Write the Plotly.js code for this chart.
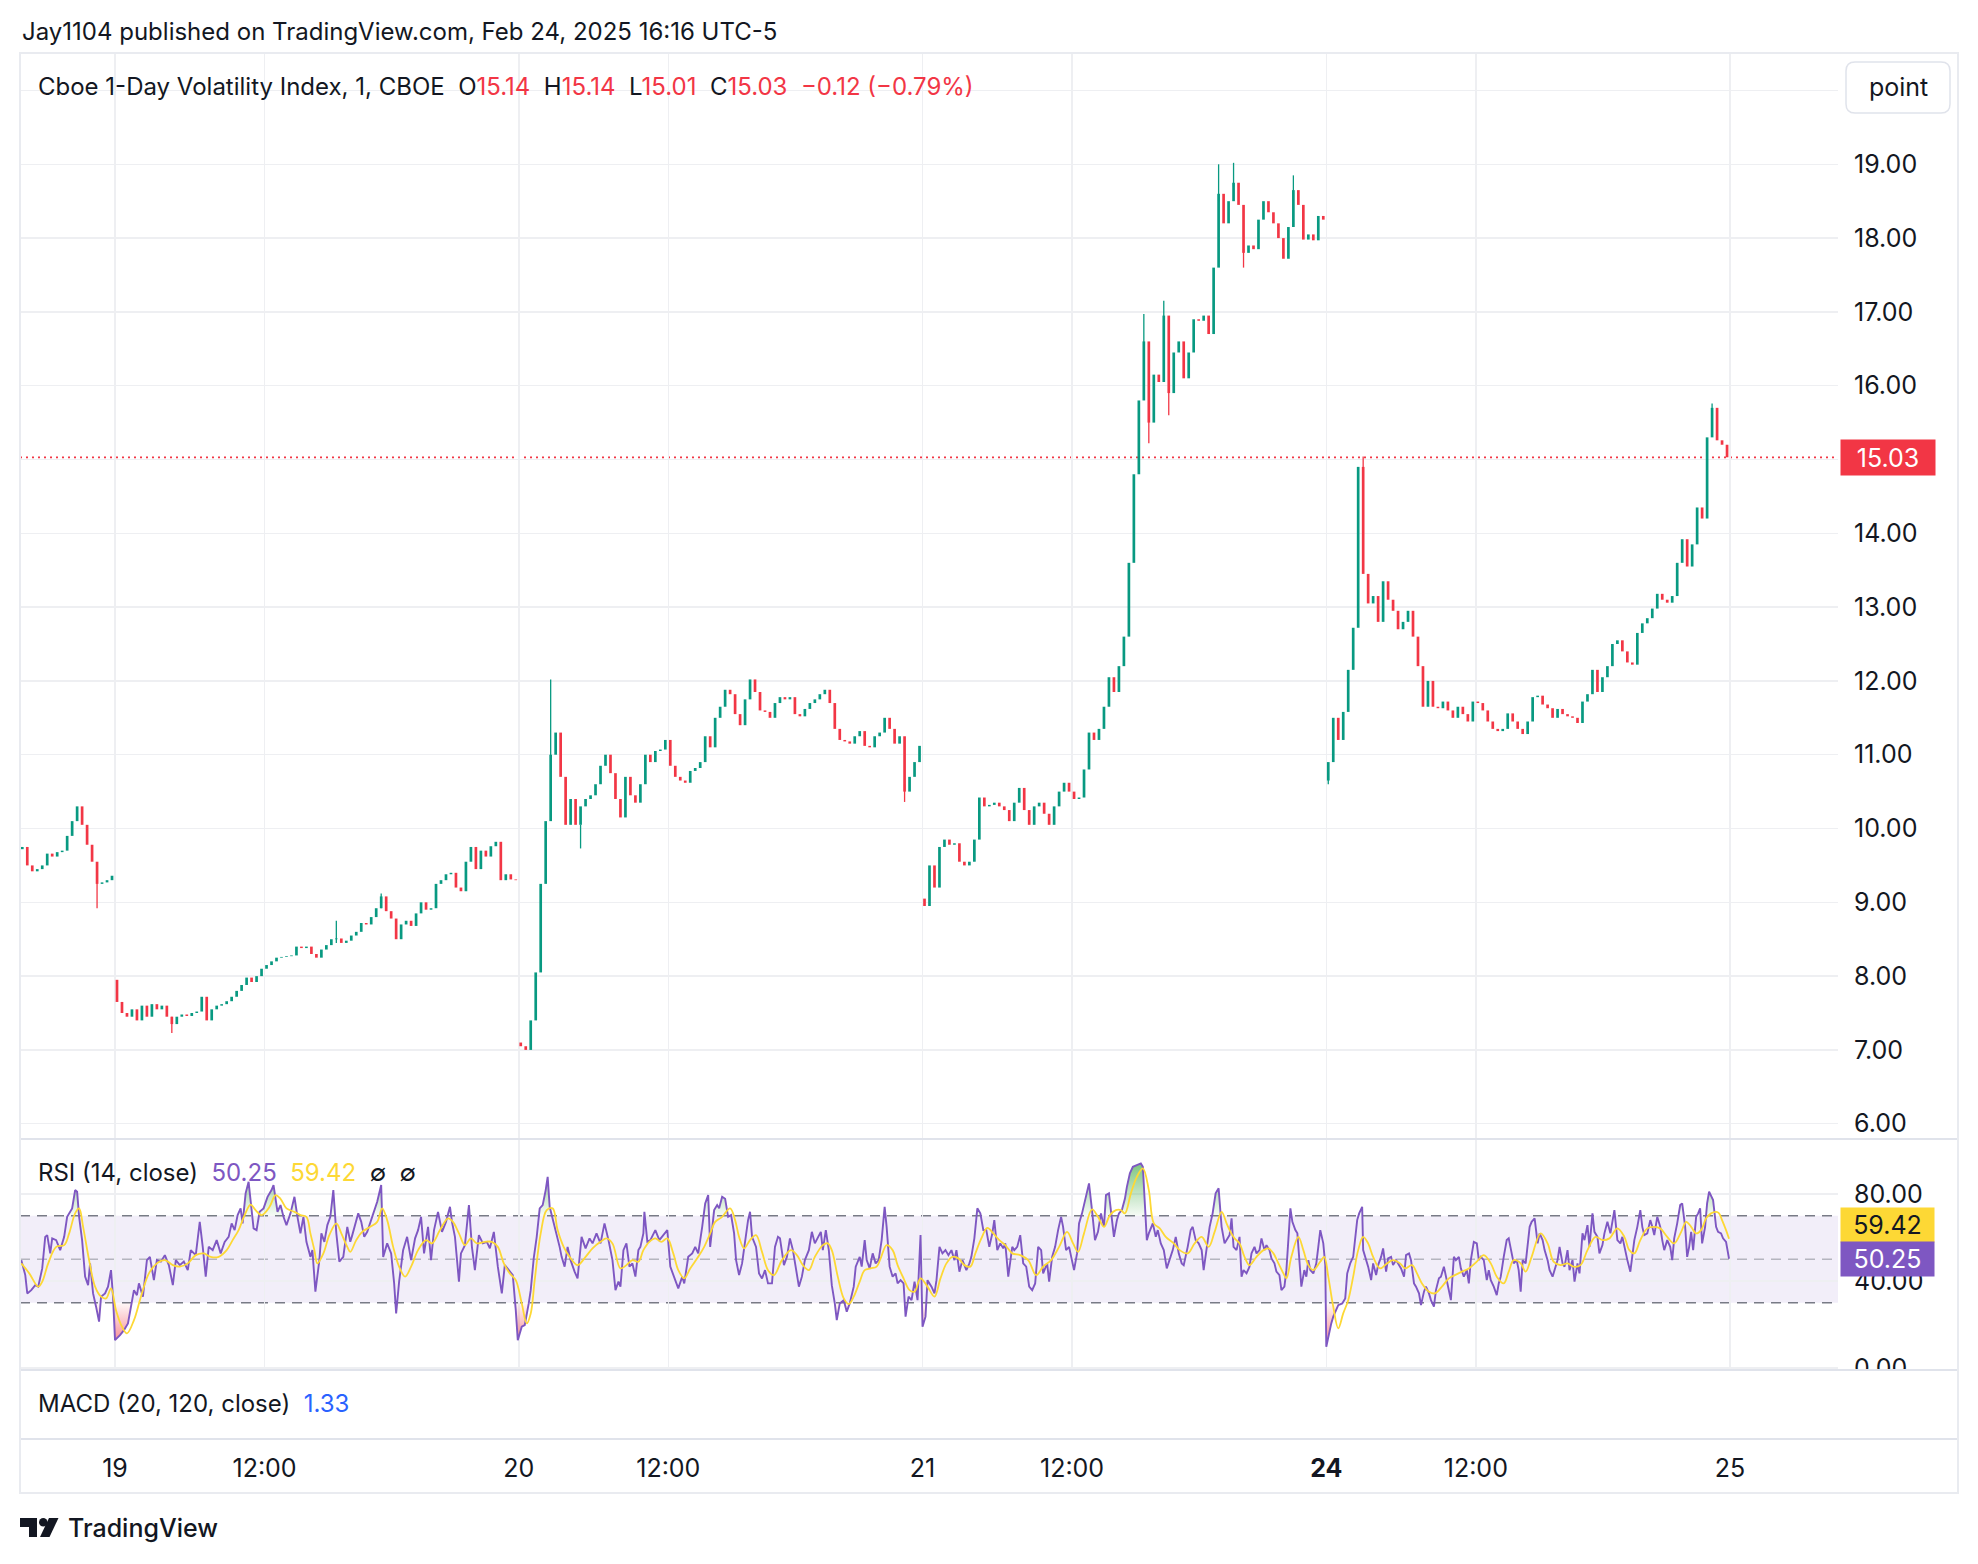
<!DOCTYPE html>
<html>
<head>
<meta charset="utf-8">
<script src="https://cdn.plot.ly/plotly-3.0.1.min.js"></script>
<style>
  html, body { margin: 0; padding: 0; background: #fff; }
  #chart { width: 1978px; height: 1564px; }
</style>
</head>
<body>
<div id="chart"></div>
<script>
/* ── Cboe 1-Day Volatility Index, 1 min, Feb 18–24 2025 ─────────── */

// x is the bar index (minutes of session); each day has 405 one-minute bars.
// Prices are sampled every 5 bars: first value is the open of the first
// candle, every following value is the close of one candle.
const BAR_STEP = 5;
const dayStart = [-93, 2, 407, 812, 1217];

const feb18 = [9.72, 9.75, 9.5, 9.42, 9.45, 9.5, 9.66, 9.62, 9.68, 9.7,
  9.9, 10.1, 10.3, 10.05, 9.78, 9.55, 9.25, 9.27, 9.3, 9.36];

const feb19 = [7.95,
  7.65, 7.5, 7.45, 7.55, 7.4, 7.6, 7.45, 7.62, 7.55, 7.6,
  7.45, 7.35, 7.45, 7.48, 7.46, 7.5, 7.52, 7.72, 7.4, 7.55,
  7.6, 7.62, 7.66, 7.72, 7.8, 7.88, 7.98, 7.92, 8.0, 8.1,
  8.15, 8.2, 8.25, 8.26, 8.27, 8.28, 8.4, 8.38, 8.4, 8.3,
  8.25, 8.36, 8.42, 8.5, 8.51, 8.45, 8.48, 8.55, 8.6, 8.72,
  8.7, 8.8, 8.92, 9.08, 8.88, 8.78, 8.5, 8.7, 8.75, 8.68,
  8.85, 9.0, 8.9, 8.92, 9.25, 9.3, 9.38, 9.4, 9.2, 9.15,
  9.55, 9.75, 9.45, 9.7, 9.62, 9.76, 9.82, 9.3, 9.38, 9.31,
  9.3];

const feb20 = [7.1,
  7.05, 7.0, 7.4, 8.05, 9.25, 10.1, 11.0, 11.3, 10.7, 10.05,
  10.4, 10.05, 10.3, 10.4, 10.45, 10.6, 10.85, 11.0, 10.75, 10.4,
  10.15, 10.7, 10.45, 10.35, 10.6, 11.0, 10.9, 11.05, 11.07, 11.2,
  10.85, 10.7, 10.65, 10.62, 10.78, 10.82, 10.9, 11.25, 11.1, 11.5,
  11.65, 11.88, 11.82, 11.55, 11.4, 11.75, 12.02, 11.85, 11.6, 11.58,
  11.5, 11.7, 11.78, 11.75, 11.78, 11.55, 11.52, 11.62, 11.7, 11.75,
  11.82, 11.88, 11.7, 11.35, 11.2, 11.18, 11.15, 11.25, 11.32, 11.12,
  11.1, 11.25, 11.3, 11.5, 11.35, 11.15, 11.25, 10.5, 10.7, 10.9,
  11.12];

const feb21 = [9.05,
  8.95, 9.5, 9.2, 9.75, 9.85, 9.78, 9.8, 9.55, 9.5, 9.55,
  9.85, 10.42, 10.3, 10.32, 10.35, 10.3, 10.25, 10.1, 10.35, 10.55,
  10.25, 10.05, 10.3, 10.35, 10.2, 10.05, 10.3, 10.5, 10.62, 10.5,
  10.4, 10.42, 10.8, 11.3, 11.2, 11.35, 11.65, 12.05, 11.85, 12.2,
  12.6, 13.6, 14.8, 15.8, 16.6, 15.5, 16.15, 16.05, 16.95, 15.9,
  16.45, 16.6, 16.1, 16.45, 16.9, 16.88, 16.95, 16.7, 17.6, 18.6,
  18.2, 18.5, 18.75, 18.45, 17.8, 17.9, 17.85, 18.25, 18.5, 18.35,
  18.2, 18.0, 17.72, 18.15, 18.65, 18.45, 17.98, 18.05, 17.97, 18.3,
  18.25];

const feb24 = [10.65,
  10.9, 11.5, 11.2, 11.58, 12.15, 12.72, 14.9, 13.45, 13.05, 13.15,
  12.8, 13.35, 13.1, 12.95, 12.7, 12.8, 12.95, 12.6, 12.2, 11.65,
  12.0, 11.65, 11.63, 11.72, 11.6, 11.5, 11.65, 11.55, 11.45, 11.72,
  11.7, 11.6, 11.45, 11.35, 11.32, 11.35, 11.56, 11.45, 11.35, 11.28,
  11.45, 11.78, 11.8, 11.68, 11.63, 11.5, 11.62, 11.55, 11.52, 11.5,
  11.43, 11.72, 11.82, 12.15, 11.85, 12.05, 12.2, 12.5, 12.55, 12.4,
  12.25, 12.22, 12.65, 12.78, 12.85, 12.98, 13.18, 13.1, 13.06, 13.15,
  13.6, 13.92, 13.55, 13.85, 14.35, 14.2, 15.3, 15.7, 15.26, 15.2,
  15.03];

const dayPrices = [feb18, feb19, feb20, feb21, feb24];

// notable wicks: [bar index, low, high]
const wicks = [
  [-18, 8.92, 9.3], [57, 7.23, 7.45], [222, 8.45, 8.75], [267, 8.92, 9.12],
  [437, 10.9, 12.02], [467, 9.73, 10.05], [792, 10.36, 10.6],
  [1032, 16.5, 16.97], [1037, 15.22, 15.6], [1052, 16.9, 17.15], [1057, 15.6, 15.95],
  [1107, 18.5, 19.0], [1122, 18.7, 19.02], [1132, 17.6, 17.85], [1182, 18.6, 18.85],
  [1217, 10.6, 10.7], [1252, 14.9, 15.04], [1602, 15.65, 15.76]
];

// last bar legend values
const lastOpen = 15.14, lastHigh = 15.14, lastLow = 15.01;
const lastChange = -0.12, lastChangePct = -0.79;
const macdValue = 1.33;

// RSI (14) [bar index, value]
const rsiPoints = [
  [-94,49.6],[-90,42.7],[-88,34.3],[-84,35.8],[-80,38.1],[-77,37.4],[-73,45.8],[-70,60.3],[-68,61.1],[-65,52.7],
  [-63,59.6],[-59,58.8],[-55,54.2],[-51,60.3],[-48,69.5],[-45,71.8],[-43,73.4],[-40,81.8],[-38,81.0],[-36,69.5],
  [-33,58.8],[-30,42.0],[-27,38.1],[-25,48.1],[-22,34.3],[-19,28.2],[-16,21.3],[-14,32.8],[-10,34.3],[-7,37.4],
  [-4,45.0],[-2,32.8],[0,12.8],[5,15.1],[9,17.4],[13,20.5],[16,28.9],[19,35.8],[22,33.5],[24,38.9],
  [28,32.8],[32,49.6],[35,51.1],[39,40.4],[42,49.6],[46,48.9],[50,51.9],[54,47.3],[58,38.1],[61,49.6],
  [65,47.3],[69,48.9],[73,45.0],[76,54.2],[81,51.9],[85,67.2],[88,55.7],[91,42.0],[94,55.7],[98,54.2],
  [102,58.8],[106,52.7],[110,58.0],[114,60.3],[117,66.5],[120,63.4],[123,70.3],[126,73.4],[128,66.5],[131,80.3],
  [134,85.6],[136,75.7],[139,64.2],[142,63.4],[145,71.8],[149,73.4],[153,78.7],[157,81.8],[159,84.1],[163,71.8],
  [166,74.9],[169,69.5],[172,65.7],[176,71.1],[180,78.7],[183,69.5],[186,61.9],[189,69.5],[192,58.0],[196,51.1],
  [198,54.2],[201,35.1],[205,49.6],[207,61.9],[210,58.0],[213,65.7],[216,69.5],[219,81.8],[222,61.9],[225,48.9],
  [229,51.1],[233,64.9],[236,58.0],[238,61.1],[241,65.7],[244,71.1],[247,67.2],[250,60.3],[253,62.6],[256,66.5],
  [260,72.6],[263,76.4],[267,84.1],[269,51.1],[273,57.3],[277,52.7],[280,38.9],[282,25.1],[285,39.7],[289,54.2],
  [293,60.3],[297,49.6],[301,59.6],[304,63.4],[307,69.5],[310,52.7],[314,64.9],[317,49.6],[320,63.4],[324,71.8],
  [328,62.6],[332,67.2],[336,74.1],[338,67.2],[341,60.3],[345,39.7],[347,52.7],[351,56.5],[355,74.9],[358,55.7],
  [361,45.0],[365,61.1],[369,57.3],[373,58.0],[376,55.0],[380,62.6],[384,46.6],[388,34.3],[391,47.3],[395,45.0],
  [399,42.7],[402,26.6],[404,12.8],[408,19.0],[411,19.7],[415,29.7],[417,35.8],[420,50.4],[423,60.3],[426,73.4],
  [429,74.9],[432,81.8],[434,87.9],[436,74.1],[439,68.8],[443,61.9],[446,55.7],[448,51.1],[451,46.6],[454,55.7],
  [457,49.6],[461,44.3],[464,41.2],[468,60.3],[472,55.0],[476,59.6],[479,57.3],[483,61.9],[487,57.3],[491,66.5],
  [495,58.8],[499,49.6],[502,35.8],[505,39.7],[507,37.4],[510,54.2],[513,57.3],[516,46.6],[519,48.1],[522,42.0],
  [525,54.2],[527,55.7],[530,61.9],[531,71.8],[534,58.0],[537,58.8],[542,63.4],[546,58.8],[550,61.1],[554,63.4],
  [557,46.6],[561,42.0],[565,36.6],[569,42.0],[571,38.9],[575,51.1],[579,52.7],[582,55.7],[585,52.7],[589,64.9],
  [592,75.7],[595,79.5],[597,55.7],[601,72.6],[604,74.9],[606,73.4],[609,78.7],[612,77.8],[615,69.5],[618,70.3],
  [621,61.9],[623,49.6],[626,42.7],[629,48.1],[632,58.8],[635,68.0],[637,71.8],[639,60.3],[643,55.7],[646,43.5],
  [649,41.2],[652,45.0],[655,38.9],[659,38.9],[662,55.7],[665,60.3],[667,59.6],[671,47.3],[674,51.1],[677,59.6],
  [680,54.2],[683,45.0],[686,37.4],[689,42.0],[692,49.6],[696,54.2],[699,62.6],[702,57.3],[705,60.3],[708,62.6],
  [710,54.2],[713,63.4],[716,54.2],[719,38.1],[722,29.7],[724,22.0],[727,29.7],[731,31.2],[734,25.9],[737,29.7],
  [741,37.4],[743,46.6],[747,51.1],[749,46.6],[752,58.8],[754,49.6],[757,45.8],[760,52.7],[763,48.1],[766,49.6],
  [769,58.8],[772,74.1],[774,64.9],[777,46.6],[780,42.0],[783,43.5],[785,38.9],[788,40.4],[791,38.9],[793,23.6],
  [796,32.8],[799,31.2],[802,39.7],[805,31.2],[808,61.1],[810,19.0],[813,23.6],[815,40.4],[819,37.4],[822,34.3],
  [824,40.4],[827,55.7],[830,52.7],[833,54.2],[836,51.9],[839,54.2],[842,49.6],[844,54.2],[847,44.3],[850,49.6],
  [854,45.0],[857,48.1],[859,51.1],[862,59.6],[865,73.4],[868,71.1],[871,63.4],[874,63.4],[877,55.7],[880,61.9],
  [882,68.0],[885,54.2],[888,57.3],[891,55.0],[893,57.3],[896,42.0],[900,55.7],[902,54.2],[905,55.7],[908,61.1],
  [911,48.1],[914,46.6],[917,37.4],[920,35.8],[923,38.9],[926,55.7],[929,54.2],[931,43.5],[935,48.1],[937,39.7],
  [940,51.1],[943,55.7],[946,63.4],[949,69.5],[951,64.9],[954,54.2],[957,55.7],[959,51.1],[962,45.0],[965,52.7],
  [967,66.5],[970,71.1],[974,78.7],[977,84.9],[980,72.6],[983,58.8],[986,62.6],[989,71.1],[992,64.9],[994,79.5],
  [997,80.3],[1000,69.5],[1002,60.3],[1005,68.0],[1007,71.1],[1010,72.6],[1013,77.8],[1015,83.3],[1018,89.5],[1021,92.5],
  [1025,93.3],[1029,94.1],[1031,92.5],[1033,72.6],[1035,58.8],[1037,61.9],[1041,66.5],[1044,60.3],[1046,63.4],[1049,57.3],
  [1052,54.2],[1055,45.8],[1058,49.6],[1061,54.2],[1064,60.3],[1067,52.7],[1070,48.1],[1072,47.3],[1076,55.7],[1079,63.4],
  [1081,64.9],[1084,58.8],[1087,57.3],[1090,54.2],[1092,45.0],[1095,54.2],[1098,64.9],[1101,71.1],[1104,80.3],[1107,82.6],
  [1110,64.9],[1113,57.3],[1115,58.8],[1118,61.1],[1120,68.8],[1122,55.7],[1125,54.2],[1128,60.3],[1130,42.0],[1132,45.0],
  [1135,43.5],[1138,46.6],[1140,52.7],[1143,55.7],[1145,52.7],[1148,54.2],[1150,59.6],[1153,54.2],[1155,56.5],[1158,54.2],
  [1160,50.4],[1163,48.1],[1165,44.3],[1168,42.7],[1170,35.8],[1173,37.4],[1175,45.0],[1177,58.8],[1179,73.4],[1181,67.2],
  [1184,63.4],[1186,61.9],[1188,49.6],[1190,37.4],[1193,45.0],[1195,42.0],[1197,49.6],[1199,45.0],[1202,43.5],[1205,48.1],
  [1207,55.7],[1209,63.4],[1212,57.3],[1214,47.3],[1215,9.8],[1217,14.4],[1220,20.5],[1222,23.6],[1225,26.6],[1227,28.9],
  [1231,29.7],[1234,32.0],[1236,43.5],[1239,48.1],[1242,51.1],[1244,60.3],[1246,68.0],[1248,71.1],[1251,74.1],[1252,54.2],
  [1255,49.6],[1257,46.6],[1260,40.4],[1262,48.1],[1265,42.7],[1267,47.3],[1270,51.1],[1272,55.0],[1275,44.3],[1277,50.4],
  [1280,51.1],[1282,47.3],[1285,49.6],[1288,47.3],[1290,45.8],[1293,42.0],[1295,51.9],[1298,52.7],[1300,49.6],[1303,38.9],
  [1305,37.4],[1308,34.3],[1310,28.9],[1313,35.1],[1315,37.4],[1318,34.3],[1320,31.2],[1323,28.2],[1325,35.8],[1328,41.2],
  [1330,42.0],[1333,46.6],[1335,42.0],[1338,34.3],[1340,31.2],[1343,51.1],[1345,49.6],[1348,51.1],[1350,45.8],[1353,42.0],
  [1356,45.0],[1358,38.9],[1360,49.6],[1363,58.0],[1366,57.3],[1368,49.6],[1370,51.1],[1373,49.6],[1376,40.4],[1378,45.0],
  [1380,40.4],[1383,37.4],[1386,33.5],[1388,38.9],[1390,42.0],[1393,51.1],[1396,58.8],[1398,59.6],[1400,54.2],[1403,48.1],
  [1406,49.6],[1408,45.0],[1410,35.1],[1412,49.6],[1415,48.1],[1417,55.7],[1419,64.9],[1421,67.2],[1424,68.8],[1427,57.3],
  [1429,61.9],[1432,58.8],[1434,54.2],[1437,49.6],[1439,45.0],[1442,42.0],[1444,45.0],[1447,49.6],[1449,55.7],[1452,48.1],
  [1454,46.6],[1457,54.2],[1459,45.0],[1462,49.6],[1464,39.7],[1467,48.1],[1469,43.5],[1472,61.9],[1474,58.8],[1477,65.7],
  [1479,55.7],[1482,71.1],[1484,62.6],[1487,60.3],[1489,52.7],[1492,56.5],[1494,61.9],[1497,67.2],[1500,61.9],[1502,67.2],
  [1504,72.6],[1507,58.8],[1510,57.3],[1512,60.3],[1514,55.7],[1517,49.6],[1520,44.3],[1522,51.1],[1524,58.8],[1527,64.9],
  [1530,72.6],[1532,64.9],[1534,61.1],[1537,61.9],[1540,68.0],[1542,64.9],[1544,61.1],[1547,69.5],[1550,64.9],[1552,58.8],
  [1554,54.2],[1557,58.8],[1560,55.7],[1562,49.6],[1564,59.6],[1567,66.5],[1570,74.9],[1572,75.7],[1575,64.9],[1577,51.1],
  [1579,55.7],[1581,62.6],[1583,54.2],[1586,69.5],[1588,71.1],[1590,73.4],[1592,57.3],[1595,64.9],[1597,75.7],[1599,81.1],
  [1601,78.7],[1603,77.2],[1606,64.9],[1608,62.6],[1611,61.9],[1613,59.6],[1616,58.0],[1617,55.7],[1619,50.25]
];

// RSI-based moving average [bar index, value]
const maPoints = [
  [-94,48.1],[-86,43.5],[-77,37.4],[-73,39.7],[-67,48.1],[-59,55.7],[-51,56.5],[-46,61.9],[-40,71.1],[-36,73.4],
  [-32,64.9],[-26,49.6],[-20,37.4],[-14,32.8],[-9,32.0],[-4,36.6],[1,26.6],[7,19.0],[12,15.9],[19,22.0],
  [26,32.8],[34,43.5],[42,48.1],[50,49.6],[58,47.3],[65,46.6],[73,48.1],[81,51.9],[89,52.7],[96,51.1],
  [104,51.1],[112,54.2],[118,58.8],[124,63.4],[130,70.3],[136,75.1],[141,72.6],[147,70.3],[155,74.1],[161,79.5],
  [166,77.8],[172,73.4],[180,71.8],[186,70.3],[192,69.5],[196,61.9],[200,54.2],[203,48.1],[209,52.7],[215,61.1],
  [222,66.5],[227,61.9],[233,55.7],[236,53.4],[242,58.8],[248,62.6],[256,64.9],[263,67.2],[268,73.4],[273,68.0],
  [279,55.7],[285,46.6],[291,42.0],[297,46.6],[304,54.2],[312,58.8],[318,57.3],[326,63.4],[334,68.8],[339,67.2],
  [345,61.9],[351,56.5],[357,59.6],[363,57.3],[371,58.0],[378,58.0],[384,55.7],[390,48.1],[396,43.5],[402,40.4],
  [408,29.7],[413,20.5],[417,25.1],[421,40.4],[427,61.9],[433,72.6],[439,73.4],[444,63.4],[450,55.7],[456,51.1],
  [464,47.3],[472,51.1],[479,55.0],[487,58.0],[493,59.6],[499,57.3],[507,45.8],[513,47.3],[519,49.6],[525,48.9],
  [530,54.2],[536,58.0],[542,59.6],[548,58.0],[554,59.6],[560,52.7],[565,45.0],[571,41.2],[577,45.8],[585,51.1],
  [591,55.7],[597,61.9],[602,67.2],[609,69.5],[617,73.4],[622,68.0],[626,60.3],[631,55.0],[637,58.8],[643,61.1],
  [649,53.4],[655,45.0],[661,42.7],[669,49.6],[678,54.2],[684,51.9],[690,47.3],[696,45.0],[702,51.1],[710,56.5],
  [715,57.3],[719,54.2],[725,42.0],[731,32.0],[736,29.4],[741,32.8],[747,39.7],[752,45.0],[758,45.8],[764,46.6],
  [768,50.4],[774,56.5],[780,54.2],[785,47.3],[791,41.2],[797,35.8],[802,35.1],[808,41.2],[815,37.4],[822,32.8],
  [828,41.2],[834,48.1],[840,51.1],[846,50.4],[852,47.3],[858,46.6],[863,52.7],[869,59.6],[875,64.4],[881,61.9],
  [887,58.8],[893,56.5],[900,52.7],[908,51.9],[916,49.6],[924,42.7],[931,46.6],[939,49.6],[947,55.7],[955,62.6],
  [961,57.3],[966,53.4],[972,61.9],[980,72.9],[986,69.5],[992,64.9],[998,70.3],[1004,72.6],[1009,72.6],[1013,71.1],
  [1019,80.3],[1025,87.9],[1031,91.8],[1037,81.8],[1042,66.5],[1048,64.2],[1054,60.3],[1062,57.3],[1068,54.2],[1076,52.7],
  [1083,57.3],[1090,60.3],[1097,55.7],[1103,62.6],[1110,71.8],[1115,66.5],[1118,63.4],[1123,59.6],[1128,57.3],[1133,51.1],
  [1138,47.3],[1145,51.1],[1152,54.2],[1157,55.0],[1162,52.7],[1167,48.1],[1172,43.5],[1175,41.2],[1180,51.1],[1187,60.3],
  [1192,54.2],[1197,47.3],[1202,45.0],[1209,48.9],[1213,51.1],[1217,42.0],[1222,28.2],[1227,18.2],[1232,25.1],[1237,31.2],
  [1242,42.0],[1247,54.2],[1252,60.3],[1257,57.3],[1262,51.1],[1269,45.8],[1276,48.1],[1282,49.6],[1289,48.1],[1294,45.8],
  [1301,47.3],[1306,43.5],[1311,38.9],[1318,35.1],[1324,34.3],[1331,37.4],[1338,41.2],[1344,42.7],[1351,44.3],[1358,45.8],
  [1366,48.9],[1373,51.9],[1380,48.1],[1386,42.0],[1393,38.9],[1398,44.3],[1403,49.6],[1410,48.1],[1415,44.3],[1421,51.1],
  [1430,61.9],[1437,57.3],[1443,48.9],[1450,47.3],[1457,48.1],[1463,46.6],[1470,47.3],[1477,54.2],[1485,60.3],[1492,58.8],
  [1499,59.6],[1507,64.2],[1514,60.3],[1519,54.2],[1524,52.7],[1530,58.8],[1537,64.2],[1544,64.9],[1550,64.2],[1557,60.3],
  [1564,57.3],[1571,62.6],[1576,67.2],[1581,64.9],[1586,61.9],[1591,63.4],[1596,68.8],[1601,71.1],[1606,71.8],[1609,71.1],
  [1612,68.0],[1616,63.4],[1619,59.42]
];

// axes
const timeTickIdx = [0, 150, 405, 555, 810, 960, 1215, 1365, 1620];
const timeTickText = ['19', '12:00', '20', '12:00', '21', '12:00', '<b>24</b>', '12:00', '25'];
const priceTicks = [6, 7, 8, 9, 10, 11, 12, 13, 14, 15, 16, 17, 18, 19, 20];
const priceHidden = [15, 20];   // covered by the price tag and the "point" button
const rsiTicks = [0, 40, 80];

/* ── build ───────────────────────────────────────────────────────── */

const UP = '#089981';
const DOWN = '#F23645';
const RSI_COLOR = '#7E57C2';
const MA_COLOR = '#FDD835';
const TEXT = '#131722';
const GRID = '#eeeff2';
const SEP = '#e0e3eb';
const FONT = 'Inter, "Noto Sans", sans-serif';

const candleX = [], candleOpen = [], candleClose = [];
dayPrices.forEach((vals, d) => {
  for (let i = 1; i < vals.length; i++) {
    candleX.push(dayStart[d] + (i - 1) * BAR_STEP);
    candleOpen.push(vals[i - 1]);
    candleClose.push(vals[i]);
  }
});
const candleColor = candleClose.map((c, i) => (c >= candleOpen[i] ? UP : DOWN));
const lastClose = candleClose[candleClose.length - 1];

function wickTrace(color) {
  const x = [], y = [];
  wicks.forEach(([wx, lo, hi]) => {
    const k = candleX.indexOf(wx);
    if (candleColor[k] !== color) return;
    x.push(wx, wx, null);
    y.push(lo, hi, null);
  });
  return { type: 'scatter', mode: 'lines', x, y, line: { color, width: 1.3 },
    xaxis: 'x', yaxis: 'y', hoverinfo: 'skip' };
}

const rsiX = rsiPoints.map(p => p[0]);
const rsiY = rsiPoints.map(p => p[1]);
const maX = maPoints.map(p => p[0]);
const maY = maPoints.map(p => p[1]);

// pixel -> paper helpers (plot area 20..1838 x 53..1439)
const P = { l: 20, r: 1838, t: 53, b: 1439 };
const px = v => (v - P.l) / (P.r - P.l);
const py = v => (P.b - v) / (P.b - P.t);
const pathOf = pts => pts.map((p, i) => (i ? 'L' : 'M') + px(p[0]) + ',' + py(p[1])).join(' ') + ' Z';

function roundRect(x0, y0, x1, y1, r) {
  const X = px, Y = py;
  return `M${X(x0 + r)},${Y(y0)} L${X(x1 - r)},${Y(y0)} Q${X(x1)},${Y(y0)} ${X(x1)},${Y(y0 + r)} ` +
    `L${X(x1)},${Y(y1 - r)} Q${X(x1)},${Y(y1)} ${X(x1 - r)},${Y(y1)} L${X(x0 + r)},${Y(y1)} ` +
    `Q${X(x0)},${Y(y1)} ${X(x0)},${Y(y1 - r)} L${X(x0)},${Y(y0 + r)} Q${X(x0)},${Y(y0)} ${X(x0 + r)},${Y(y0)} Z`;
}

const data = [
  // candle bodies
  {
    type: 'bar', x: candleX,
    base: candleX.map((_, i) => Math.min(candleOpen[i], candleClose[i])),
    y: candleX.map((_, i) => Math.abs(candleClose[i] - candleOpen[i])),
    width: 2.7, marker: { color: candleColor, line: { width: 0 } },
    xaxis: 'x', yaxis: 'y', hoverinfo: 'skip'
  },
  wickTrace(UP),
  wickTrace(DOWN),
  // overbought / oversold fills
  { type: 'scatter', mode: 'lines', x: rsiX, y: rsiX.map(() => 70), line: { width: 0 },
    xaxis: 'x2', yaxis: 'y2', hoverinfo: 'skip' },
  { type: 'scatter', mode: 'lines', x: rsiX, y: rsiY.map(v => Math.max(v, 70)), line: { width: 0 },
    fill: 'tonexty', fillcolor: 'rgba(76,175,80,0.35)',
    fillgradient: { type: 'vertical', start: 70, stop: 95,
      colorscale: [[0, 'rgba(76,175,80,0.05)'], [1, 'rgba(76,175,80,0.75)']] },
    xaxis: 'x2', yaxis: 'y2', hoverinfo: 'skip' },
  { type: 'scatter', mode: 'lines', x: rsiX, y: rsiX.map(() => 30), line: { width: 0 },
    xaxis: 'x2', yaxis: 'y2', hoverinfo: 'skip' },
  { type: 'scatter', mode: 'lines', x: rsiX, y: rsiY.map(v => Math.min(v, 30)), line: { width: 0 },
    fill: 'tonexty', fillcolor: 'rgba(242,54,69,0.3)',
    fillgradient: { type: 'vertical', start: 8, stop: 30,
      colorscale: [[0, 'rgba(242,54,69,0.7)'], [1, 'rgba(242,54,69,0.03)']] },
    xaxis: 'x2', yaxis: 'y2', hoverinfo: 'skip' },
  // RSI + MA
  { type: 'scatter', mode: 'lines', x: rsiX, y: rsiY, line: { color: RSI_COLOR, width: 1.9 },
    xaxis: 'x2', yaxis: 'y2', hoverinfo: 'skip' },
  { type: 'scatter', mode: 'lines', x: maX, y: maY, line: { color: MA_COLOR, width: 1.8, shape: 'spline' },
    xaxis: 'x2', yaxis: 'y2', hoverinfo: 'skip' },
  // MACD pane (values not plotted in the snapshot) – keeps the time axis subplot
  { type: 'scatter', mode: 'lines', x: [], y: [], xaxis: 'x3', yaxis: 'y3', hoverinfo: 'skip' }
];

const xRange = [-95.3, 1728.3];
const baseX = {
  range: xRange, tickvals: timeTickIdx, showgrid: true, gridcolor: GRID, gridwidth: 1.5,
  zeroline: false, showline: false, ticks: '', showticklabels: false, fixedrange: true
};

const line = (y, color, width) => ({
  type: 'line', xref: 'paper', yref: 'paper', x0: 0, x1: px(1958), y0: py(y), y1: py(y),
  line: { color, width }, layer: 'above'
});

const shapes = [
  // RSI band and levels
  { type: 'rect', xref: 'paper', yref: 'y2', x0: 0, x1: 1, y0: 30, y1: 70,
    fillcolor: 'rgba(126,87,194,0.1)', line: { width: 0 }, layer: 'below' },
  { type: 'line', xref: 'paper', yref: 'y2', x0: 0, x1: 1, y0: 70, y1: 70,
    line: { color: '#787B86', width: 1.6, dash: '10px,7px' }, layer: 'between' },
  { type: 'line', xref: 'paper', yref: 'y2', x0: 0, x1: 1, y0: 30, y1: 30,
    line: { color: '#787B86', width: 1.6, dash: '10px,7px' }, layer: 'between' },
  { type: 'line', xref: 'paper', yref: 'y2', x0: 0, x1: 1, y0: 50, y1: 50,
    line: { color: 'rgba(120,123,134,0.5)', width: 1.6, dash: '10px,7px' }, layer: 'between' },
  // last price line
  { type: 'line', xref: 'paper', yref: 'y', x0: 0, x1: 1, y0: lastClose, y1: lastClose,
    line: { color: DOWN, width: 1.7, dash: '2px,4px' }, layer: 'between' },
  // cover the lower half of the RSI "0.00" label (clipped by pane)
  { type: 'rect', xref: 'paper', yref: 'paper', x0: px(1839), x1: px(1956), y0: py(1437), y1: py(1371),
    fillcolor: '#ffffff', line: { width: 0 }, layer: 'above' },
  // pane separators and frame
  line(1139, SEP, 2), line(1370, SEP, 2), line(1439, SEP, 2),
  { type: 'rect', xref: 'paper', yref: 'paper', x0: 0, x1: px(1958), y0: py(1493), y1: 1,
    line: { color: '#e9ebf0', width: 2 }, layer: 'above' },
  // "point" button
  { type: 'path', xref: 'paper', yref: 'paper', path: roundRect(1846, 62, 1950, 113, 9),
    fillcolor: '#ffffff', line: { color: '#e0e3eb', width: 1.5 }, layer: 'above' },
  // TradingView logo mark
  { type: 'path', xref: 'paper', yref: 'paper',
    path: pathOf([[20, 1518], [37, 1518], [37, 1537], [29, 1537], [29, 1527], [20, 1527]]),
    fillcolor: TEXT, line: { width: 0 }, layer: 'above' },
  { type: 'circle', xref: 'paper', yref: 'paper', x0: px(39), x1: px(47.5), y0: py(1526.5), y1: py(1518),
    fillcolor: TEXT, line: { width: 0 }, layer: 'above' },
  { type: 'path', xref: 'paper', yref: 'paper',
    path: pathOf([[49, 1518], [58.5, 1518], [49.5, 1537], [40, 1537]]),
    fillcolor: TEXT, line: { width: 0 }, layer: 'above' }
];

const nb = '\u00a0';
const gap = nb + nb;
const red = t => `<span style="color:${DOWN}">${t}</span>`;
const minus = v => (v < 0 ? '\u2212' : '+') + Math.abs(v).toFixed(2);

const txt = (text, x, y, extra) => Object.assign({
  text, xref: 'paper', yref: 'paper', x, y, xanchor: 'left', yanchor: 'middle',
  showarrow: false, font: { family: FONT, size: 24, color: TEXT }
}, extra || {});

const tagFont = (color) => ({ family: FONT, size: 25, color });

const annotations = [
  txt('Jay1104 published on TradingView.com, Feb 24, 2025 16:16 UTC-5', px(20), py(31.5)),
  txt(`Cboe 1-Day Volatility Index, 1, CBOE${gap}O${red(lastOpen.toFixed(2))}${gap}H${red(lastHigh.toFixed(2))}` +
      `${gap}L${red(lastLow.toFixed(2))}${gap}C${red(lastClose.toFixed(2))}${gap}` +
      red(`${minus(lastChange)} (${minus(lastChangePct)}%)`), px(36), py(86)),
  txt(`RSI (14, close)${gap}<span style="color:${RSI_COLOR}">${rsiY[rsiY.length - 1].toFixed(2)}</span>${gap}` +
      `<span style="color:${MA_COLOR}">${maY[maY.length - 1].toFixed(2)}</span>${gap}\u2205${gap}\u2205`,
      px(36), py(1172)),
  txt(`MACD (20, 120, close)${gap}<span style="color:#2962FF">${macdValue.toFixed(2)}</span>`, px(36), py(1403)),
  txt('point', px(1898), py(87.5), { xanchor: 'center', font: tagFont(TEXT) }),
  txt('TradingView', px(66), py(1528), { font: { family: FONT, size: 25, color: TEXT, weight: 500 } }),
  // price / RSI value tags
  { text: lastClose.toFixed(2), xref: 'paper', yref: 'y', x: px(1840), y: lastClose,
    xanchor: 'left', yanchor: 'middle', showarrow: false, bgcolor: DOWN, borderpad: 1,
    width: 92, height: 33, align: 'center', font: tagFont('#ffffff') },
  { text: maY[maY.length - 1].toFixed(2), xref: 'paper', yref: 'y2', x: px(1840), y: maY[maY.length - 1],
    yshift: 14, xanchor: 'left', yanchor: 'middle', showarrow: false, bgcolor: MA_COLOR, borderpad: 1,
    width: 91, height: 32, align: 'center', font: tagFont(TEXT) },
  { text: rsiY[rsiY.length - 1].toFixed(2), xref: 'paper', yref: 'y2', x: px(1840), y: rsiY[rsiY.length - 1],
    xanchor: 'left', yanchor: 'middle', showarrow: false, bgcolor: RSI_COLOR, borderpad: 1,
    width: 91, height: 32, align: 'center', font: tagFont('#ffffff') }
];

const tickFont = { family: FONT, size: 25, color: TEXT };

const layout = {
  width: 1978, height: 1564,
  margin: { l: 20, r: 140, t: 53, b: 125 },
  paper_bgcolor: '#ffffff', plot_bgcolor: '#ffffff',
  showlegend: false,
  font: { family: FONT, size: 24, color: TEXT },
  xaxis: Object.assign({}, baseX, { anchor: 'y' }),
  xaxis2: Object.assign({}, baseX, { anchor: 'y2' }),
  xaxis3: Object.assign({}, baseX, {
    anchor: 'y3', showgrid: false, showticklabels: true, ticktext: timeTickText,
    tickfont: tickFont, ticklabelstandoff: 12
  }),
  yaxis: {
    domain: [py(1139), 1], range: [5.793, 20.508], side: 'right', anchor: 'x',
    tickvals: priceTicks, ticktext: priceTicks.map(v => (priceHidden.includes(v) ? '' : v.toFixed(2))),
    showgrid: true, gridcolor: GRID, gridwidth: 1.5, zeroline: false, showline: false, ticks: '',
    tickfont: tickFont, ticklabelstandoff: 15, fixedrange: true
  },
  yaxis2: {
    domain: [py(1370), py(1139)], range: [-0.92, 105.29], side: 'right', anchor: 'x2',
    tickvals: rsiTicks, ticktext: rsiTicks.map(v => v.toFixed(2)),
    showgrid: true, gridcolor: GRID, gridwidth: 1.5, zeroline: false, showline: false, ticks: '',
    tickfont: tickFont, ticklabelstandoff: 15, fixedrange: true
  },
  yaxis3: {
    domain: [0, py(1370)], range: [0, 1], side: 'right', anchor: 'x3',
    showgrid: false, showticklabels: false, zeroline: false, showline: false, fixedrange: true
  },
  shapes,
  annotations
};

Plotly.newPlot('chart', data, layout, { staticPlot: true, displayModeBar: false });
</script>
</body>
</html>
